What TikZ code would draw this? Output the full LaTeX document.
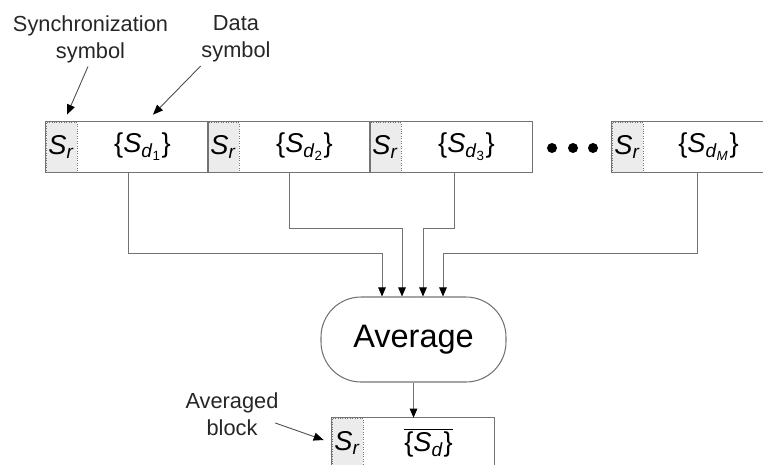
\documentclass[tikz,border=0pt]{standalone}
\usepackage{fontspec}
\setmainfont{Liberation Sans}
\usepackage{tikz}
\usetikzlibrary{arrows.meta,positioning,calc}
\usepackage{xcolor}
\definecolor{linegray}{RGB}{115,115,115}
\definecolor{srfill}{RGB}{236,236,236}

\begin{document}
\begin{tikzpicture}[
  x=0.02cm, y=-0.02cm,
  srbox/.style={draw=linegray, densely dotted, fill=srfill, minimum width=0.62cm,
    minimum height=1cm, inner sep=0pt, font=\fontsize{15.5}{18}\selectfont},
  databox/.style={minimum width=2.62cm, minimum height=1cm, inner sep=0pt,
    font=\fontsize{15.5}{18}\selectfont},
  frame/.style={draw=linegray, line width=0.6pt},
  lbl/.style={align=center, inner sep=2pt, text=black!85,
    font=\fontsize{12.4}{15.3}\selectfont},
  feed/.style={draw=linegray, line width=0.5pt,
    -{Triangle[length=0.18cm, width=0.15cm, black]}},
  pointer/.style={draw=black!70, line width=0.5pt,
    -{Triangle[length=0.2cm, width=0.16cm, black]}}
]
\useasboundingbox (0,0) rectangle (763,464);

% transmitted blocks
\node[srbox] (sr1) at (61.5, 147) {\textit{S}\textsubscript{\textit{r}}};
\node[databox] (d1) at (142.5, 147) {\{\textit{S}\textsubscript{\textit{d}\textsubscript{1}}\}};
\node[srbox] (sr2) at (223.5, 147) {\textit{S}\textsubscript{\textit{r}}};
\node[databox] (d2) at (304.5, 147) {\{\textit{S}\textsubscript{\textit{d}\textsubscript{2}}\}};
\node[srbox] (sr3) at (385.5, 147) {\textit{S}\textsubscript{\textit{r}}};
\node[databox] (d3) at (466.5, 147) {\{\textit{S}\textsubscript{\textit{d}\textsubscript{3}}\}};
\node[srbox] (sr4) at (627.5, 147) {\textit{S}\textsubscript{\textit{r}}};
\node[databox] (d4) at (708.5, 147) {\{\textit{S}\textsubscript{\textit{d}\textsubscript{\textit{M}}}\}};
\draw[frame] (sr1.north west) rectangle (d1.south east);
\draw[frame] (sr2.north west) rectangle (d2.south east);
\draw[frame] (sr3.north west) rectangle (d3.south east);
\draw[frame] (sr4.north west) rectangle (d4.south east);
\fill (552, 148) circle (0.1cm) (573, 148) circle (0.1cm) (593, 148) circle (0.1cm);

% averaging
\node[draw=linegray, line width=0.6pt, rounded corners=0.8cm, minimum width=3.7cm,
  minimum height=1.7cm, inner sep=0pt, font=\fontsize{18.5}{21}\selectfont]
  (avg) at (413.5, 339.5) {Average};

\draw[feed] ([xshift=-0.29cm]d1.south) -- ++(0,81) -| ([xshift=-0.63cm]avg.north);
\draw[feed] ([xshift=-0.30cm]d2.south) -- ++(0,56) -| ([xshift=-0.23cm]avg.north);
\draw[feed] ([xshift=-0.25cm]d3.south) -- ++(0,56) -| ([xshift=0.19cm]avg.north);
\draw[feed] ([xshift=-0.23cm]d4.south) -- ++(0,81) -| ([xshift=0.59cm]avg.north);

% result
\node[srbox] (bsr) at (347.5, 443) {\textit{S}\textsubscript{\textit{r}}};
\node[databox] (bd) at (428.5, 443)
  {$\overline{\hbox{\{\textit{S}\textsubscript{\textit{d}}\}}}$};
\draw[frame] (bsr.north west) rectangle (bd.south east);
\draw[feed] (avg.south) -- (avg.south |- bd.north);

% annotations
\node[lbl] (synclbl) at (90.5, 39) {Synchronization\\symbol};
\node[lbl] (datalbl) at (236, 39) {Data\\symbol};
\node[lbl] (avglbl) at (232, 414) {Averaged\\block};
\draw[pointer] ([xshift=-0.05cm]synclbl.south) -- ([shift={(0.11cm,0.14cm)}]sr1.north);
\draw[pointer] ([xshift=0.06cm]datalbl.south west) -- ([shift={(0.21cm,0.14cm)}]d1.north);
\draw[pointer] ([shift={(-0.14cm,-0.18cm)}]avglbl.east) -- ([shift={(-0.16cm,0.06cm)}]bsr.west);
\end{tikzpicture}
\end{document}
